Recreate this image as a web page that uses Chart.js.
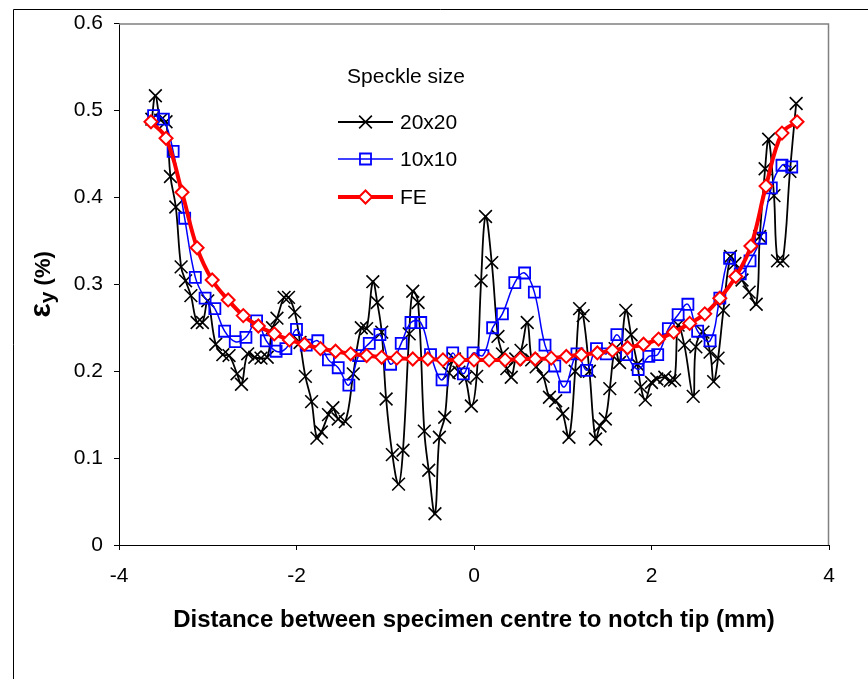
<!DOCTYPE html>
<html><head><meta charset="utf-8">
<script src="https://cdn.jsdelivr.net/npm/chart.js@4/dist/chart.umd.min.js"></script>
<style>html,body{margin:0;padding:0;background:#fff}#wrap{width:868px;height:679px;position:relative}canvas{display:block}</style>
</head><body><div id="wrap"><canvas id="c" width="868" height="679"></canvas></div>
<script>
// ---- data ----
const seriesNames = ['20x20', '10x10', 'FE'];
const legendTitle = 'Speckle size';
const xTitle = 'Distance between specimen centre to notch tip (mm)';
const yTitleMain = 'ε', yTitleSub = 'y', yTitleRest = ' (%)';
const xTickValues = [-4, -2, 0, 2, 4];
const yTickValues = [0, 0.1, 0.2, 0.3, 0.4, 0.5, 0.6];

const x20 = [-3.63,-3.59,-3.53,-3.47,-3.42,-3.36,-3.30,-3.25,-3.19,-3.12,-3.06,-3.00,-2.91,-2.83,-2.76,-2.67,-2.62,-2.55,-2.47,-2.40,-2.33,-2.27,-2.22,-2.14,-2.09,-2.02,-1.96,-1.90,-1.83,-1.77,-1.72,-1.64,-1.59,-1.53,-1.45,-1.36,-1.27,-1.21,-1.14,-1.09,-1.04,-0.99,-0.92,-0.85,-0.80,-0.73,-0.69,-0.63,-0.56,-0.51,-0.44,-0.39,-0.33,-0.28,-0.22,-0.17,-0.10,-0.03,0.03,0.08,0.13,0.20,0.27,0.32,0.37,0.42,0.47,0.53,0.60,0.65,0.70,0.78,0.85,0.92,1.00,1.07,1.14,1.19,1.23,1.30,1.37,1.42,1.48,1.53,1.59,1.64,1.71,1.77,1.84,1.88,1.93,2.00,2.06,2.15,2.21,2.26,2.30,2.37,2.47,2.50,2.58,2.66,2.70,2.75,2.81,2.89,2.94,3.02,3.10,3.18,3.22,3.28,3.32,3.38,3.42,3.48,3.56,3.63];
const y20 = [0.490,0.517,0.489,0.487,0.424,0.389,0.320,0.304,0.287,0.256,0.256,0.281,0.231,0.219,0.218,0.197,0.185,0.220,0.216,0.215,0.216,0.250,0.261,0.285,0.285,0.268,0.233,0.194,0.165,0.123,0.130,0.150,0.158,0.145,0.142,0.197,0.250,0.249,0.303,0.279,0.245,0.168,0.104,0.070,0.109,0.243,0.292,0.279,0.131,0.086,0.036,0.124,0.147,0.198,0.214,0.199,0.192,0.160,0.194,0.304,0.378,0.325,0.240,0.220,0.203,0.193,0.214,0.224,0.256,0.213,0.205,0.194,0.170,0.166,0.151,0.124,0.200,0.272,0.264,0.200,0.122,0.137,0.145,0.180,0.226,0.210,0.270,0.242,0.208,0.182,0.167,0.187,0.191,0.193,0.189,0.190,0.253,0.230,0.171,0.228,0.245,0.222,0.188,0.215,0.270,0.332,0.324,0.305,0.291,0.277,0.355,0.433,0.467,0.402,0.327,0.327,0.430,0.508];

const x10 = [-3.61,-3.50,-3.39,-3.26,-3.14,-3.03,-2.92,-2.81,-2.69,-2.57,-2.45,-2.34,-2.23,-2.12,-2.00,-1.89,-1.76,-1.64,-1.53,-1.41,-1.30,-1.18,-1.06,-0.94,-0.82,-0.71,-0.60,-0.49,-0.36,-0.24,-0.12,-0.01,0.10,0.21,0.32,0.46,0.57,0.68,0.80,0.91,1.02,1.16,1.27,1.38,1.49,1.61,1.72,1.85,1.97,2.07,2.19,2.30,2.41,2.52,2.66,2.77,2.88,3.00,3.11,3.23,3.35,3.47,3.58];
const y10 = [0.494,0.490,0.453,0.376,0.308,0.284,0.272,0.246,0.234,0.239,0.258,0.235,0.223,0.226,0.248,0.230,0.235,0.213,0.204,0.184,0.218,0.232,0.242,0.208,0.232,0.256,0.256,0.219,0.190,0.221,0.197,0.221,0.218,0.250,0.266,0.302,0.313,0.291,0.230,0.206,0.182,0.220,0.201,0.226,0.220,0.242,0.219,0.202,0.217,0.219,0.249,0.265,0.277,0.246,0.235,0.284,0.330,0.312,0.327,0.353,0.411,0.437,0.435];

const xFE = [-3.64,-3.47,-3.29,-3.12,-2.95,-2.77,-2.60,-2.43,-2.25,-2.08,-1.91,-1.73,-1.56,-1.39,-1.21,-1.04,-0.87,-0.69,-0.52,-0.35,-0.17,0,0.17,0.35,0.52,0.69,0.87,1.04,1.21,1.39,1.56,1.73,1.91,2.08,2.25,2.43,2.60,2.77,2.95,3.12,3.29,3.47,3.64];
const yFE = [0.487,0.468,0.406,0.342,0.305,0.282,0.264,0.252,0.243,0.236,0.231,0.226,0.223,0.220,0.218,0.216,0.215,0.214,0.214,0.213,0.213,0.213,0.213,0.213,0.214,0.214,0.215,0.217,0.219,0.221,0.224,0.227,0.231,0.237,0.245,0.255,0.266,0.284,0.309,0.344,0.413,0.474,0.487];

const pts = (xs, ys) => xs.map((x, i) => ({x: x, y: ys[i]}));
const FONT = '"Liberation Sans", Arial, sans-serif';

// ---- styles ----
const styles = [
  {color: '#000000', width: 1.8, pointStyle: 'crossRot', radius: 9, pbw: 1.6, fill: 'rgba(0,0,0,0)'},
  {color: '#0000FF', width: 1.5, pointStyle: 'rect', radius: 7.8, pbw: 1.8, fill: 'rgba(255,255,255,0)'},
  {color: '#FF0000', width: 4, pointStyle: 'rectRot', radius: 6.5, pbw: 2, fill: '#FFFFFF'}
];
const seriesData = [pts(x20, y20), pts(x10, y10), pts(xFE, yFE)];

function drawMarker(ctx, style, x, y, r) {
  ctx.save();
  ctx.strokeStyle = style.color; ctx.lineWidth = style.pbw; ctx.fillStyle = style.fill;
  ctx.beginPath();
  if (style.pointStyle === 'crossRot') {
    const o = Math.SQRT1_2 * r;
    ctx.moveTo(x - o, y - o); ctx.lineTo(x + o, y + o);
    ctx.moveTo(x + o, y - o); ctx.lineTo(x - o, y + o);
    ctx.stroke();
  } else if (style.pointStyle === 'rect') {
    const s = Math.SQRT1_2 * r;
    ctx.rect(x - s, y - s, 2 * s, 2 * s); ctx.fill(); ctx.stroke();
  } else {
    ctx.moveTo(x - r, y); ctx.lineTo(x, y - r); ctx.lineTo(x + r, y); ctx.lineTo(x, y + r); ctx.closePath();
    ctx.fill(); ctx.stroke();
  }
  ctx.restore();
}

const decor = {
  id: 'decor',
  beforeDraw(chart) {
    const ctx = chart.ctx;
    ctx.save();
    ctx.fillStyle = '#fff'; ctx.fillRect(0, 0, chart.width, chart.height);
    ctx.strokeStyle = '#000'; ctx.lineWidth = 1;
    ctx.beginPath();
    ctx.moveTo(13.5, chart.height); ctx.lineTo(13.5, 9.5); ctx.lineTo(chart.width, 9.5);
    ctx.stroke();
    ctx.restore();
  },
  afterDraw(chart) {
    const ctx = chart.ctx, a = chart.chartArea;
    ctx.save();
    // plot area border (top & right)
    ctx.strokeStyle = '#808080'; ctx.lineWidth = 1.5;
    ctx.beginPath();
    ctx.moveTo(a.left, a.top + 0.5); ctx.lineTo(a.right - 0.5, a.top + 0.5); ctx.lineTo(a.right - 0.5, a.bottom);
    ctx.stroke();
    // legend
    ctx.fillStyle = '#000';
    ctx.font = '21px ' + FONT; ctx.textBaseline = 'middle'; ctx.textAlign = 'center';
    ctx.fillText(legendTitle, 406, 77);
    const rows = [122, 159, 197];
    ctx.textAlign = 'left';
    seriesNames.forEach((name, i) => {
      const st = styles[i];
      ctx.strokeStyle = st.color; ctx.lineWidth = st.width;
      ctx.beginPath(); ctx.moveTo(338, rows[i]); ctx.lineTo(393, rows[i]); ctx.stroke();
      drawMarker(ctx, st, 365.5, rows[i], st.radius);
      ctx.fillStyle = '#000';
      ctx.fillText(name, 400, rows[i] + 1);
    });
    // x title
    ctx.font = 'bold 24px ' + FONT; ctx.textAlign = 'center'; ctx.textBaseline = 'middle';
    ctx.fillText(xTitle, (a.left + a.right) / 2, 620);
    // y title (epsilon with subscript y)
    ctx.translate(44, (a.top + a.bottom) / 2);
    ctx.rotate(-Math.PI / 2);
    const f1 = 'bold 30px ' + FONT, f2 = 'bold 21px ' + FONT, f3 = 'bold 22px ' + FONT;
    ctx.font = f1; const w1 = ctx.measureText(yTitleMain).width;
    ctx.font = f2; const w2 = ctx.measureText(yTitleSub).width;
    ctx.font = f3; const w3 = ctx.measureText(yTitleRest).width;
    let sx = -(w1 + w2 + w3) / 2;
    ctx.textAlign = 'left'; ctx.textBaseline = 'alphabetic';
    ctx.font = f1; ctx.fillText(yTitleMain, sx, 6); sx += w1;
    ctx.font = f2; ctx.fillText(yTitleSub, sx, 10); sx += w2;
    ctx.font = f3; ctx.fillText(yTitleRest, sx, 6);
    ctx.restore();
  }
};

const datasets = seriesNames.map((name, i) => ({
  label: name,
  data: seriesData[i],
  borderColor: styles[i].color,
  borderWidth: styles[i].width,
  pointStyle: styles[i].pointStyle,
  pointRadius: styles[i].radius,
  pointBorderWidth: styles[i].pbw,
  pointBorderColor: styles[i].color,
  pointBackgroundColor: styles[i].fill,
  backgroundColor: styles[i].fill,
  tension: 0.4,
  fill: false,
  order: 3 - i
}));

new Chart(document.getElementById('c'), {
  type: 'line',
  data: {datasets},
  options: {
    responsive: false,
    animation: false,
    devicePixelRatio: 1,
    layout: {autoPadding: false, padding: {top: 23, right: 39, left: 0, bottom: 0}},
    plugins: {legend: {display: false}, tooltip: {enabled: false}},
    scales: {
      x: {
        type: 'linear', min: -4, max: 4,
        afterFit: s => { s.height = 134; },
        afterBuildTicks: s => { s.ticks = xTickValues.map(v => ({value: v})); },
        ticks: {color: '#000', font: {family: FONT, size: 21}, padding: 14, maxRotation: 0,
                callback: v => String(v)},
        grid: {display: true, drawOnChartArea: false, drawTicks: true, tickLength: 5, color: '#000'},
        border: {color: '#000', width: 1}
      },
      y: {
        type: 'linear', min: 0, max: 0.6,
        afterFit: s => { s.width = 119; },
        afterBuildTicks: s => { s.ticks = yTickValues.map(v => ({value: v})); },
        ticks: {color: '#000', font: {family: FONT, size: 21}, padding: 11,
                callback: v => String(Number(v.toFixed(1)))},
        grid: {display: true, drawOnChartArea: false, drawTicks: true, tickLength: 5, color: '#000'},
        border: {color: '#000', width: 1}
      }
    }
  },
  plugins: [decor]
});
</script></body></html>
